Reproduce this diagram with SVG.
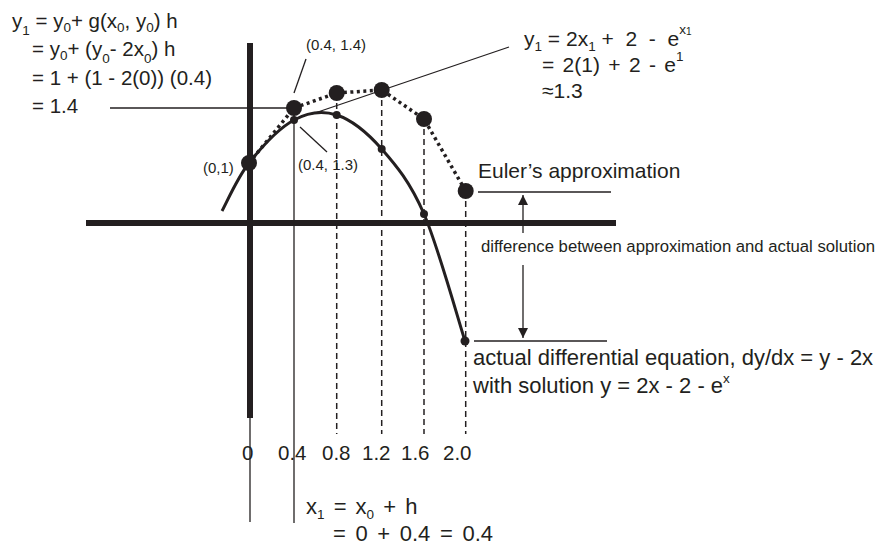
<svg xmlns="http://www.w3.org/2000/svg" width="880" height="548" viewBox="0 0 880 548">
<defs>
<style>
text{font-family:"Liberation Sans",Arial,sans-serif;fill:#231f20}
.f20{font-size:20.5px}
.f21{font-size:21px}
.f22{font-size:22px}
.sm{font-size:15px}
.sub{font-size:13.5px}
.thick{stroke:#231f20;stroke-width:6;fill:none}
.thin{stroke:#231f20;stroke-width:1.3;fill:none}
.dash{stroke:#231f20;stroke-width:1.5;stroke-dasharray:6 4;fill:none}
.dots{stroke:#231f20;stroke-width:3.5;stroke-dasharray:3 3.5;fill:none}
.curve{stroke:#231f20;stroke-width:3;fill:none}
.big{fill:#231f20}
</style>
<marker id="arr" viewBox="0 0 10 10" refX="10" refY="5" markerWidth="10" markerHeight="11" markerUnits="userSpaceOnUse" orient="auto"><path d="M0,0 L10,5 L0,10 z" fill="#231f20"/></marker>
</defs>
<rect width="880" height="548" fill="#fff"/>

<g id="axes">
<line class="thick" x1="86" y1="223" x2="616" y2="223"/>
<line class="thick" x1="250" y1="43" x2="250" y2="418"/>
<line class="thin" x1="250" y1="418" x2="250" y2="522" stroke-width="1.5"/>
</g>

<g id="connectors">
<line class="thin" x1="294" y1="108" x2="294" y2="523" stroke-width="1.5"/>
<line class="dash" x1="336.7" y1="93" x2="336.7" y2="434"/>
<line class="dash" x1="381.7" y1="90" x2="381.7" y2="434"/>
<line class="dash" x1="424" y1="119" x2="424" y2="434"/>
<line class="dash" x1="465.7" y1="191" x2="465.7" y2="434"/>
<line class="thin" x1="110" y1="108" x2="294" y2="108"/>
<line class="thin" x1="312" y1="114" x2="509" y2="47" stroke-width="1.5"/>
<line class="thin" x1="306" y1="59" x2="294" y2="93" stroke-width="1.5"/>
<line class="thin" x1="300" y1="127" x2="327" y2="152" stroke-width="1.5"/>
<line class="thin" x1="478" y1="192" x2="611" y2="192"/>
<line class="thin" x1="474" y1="341" x2="607" y2="341"/>
<line class="thin" x1="523" y1="233" x2="523" y2="195" marker-end="url(#arr)"/>
<line class="thin" x1="523" y1="265" x2="523" y2="338" marker-end="url(#arr)"/>
<path class="dots" d="M249,163 L294,108 L336.7,93 L381.7,90 L424,119 L465.7,191"/>
<path class="curve" d="M222,211 C226.5,203 237,178.2 249,163 C261,147.8 279.4,128 294,120 C308.6,112 322.1,110.2 336.7,115 C351.3,119.8 367.2,132.5 381.7,149 C396.2,165.5 410.1,182 424,214 C437.9,246 458.2,319.8 465,341"/>
</g>

<g id="euler-points" class="big">
<circle cx="249" cy="163" r="8"/>
<circle cx="294" cy="108" r="8"/>
<circle cx="336.7" cy="93" r="8"/>
<circle cx="381.7" cy="90" r="8"/>
<circle cx="424" cy="119" r="8"/>
<circle cx="465.7" cy="191" r="8"/>
</g>
<g id="actual-points" class="big">
<circle cx="294" cy="120" r="4"/>
<circle cx="336.7" cy="115" r="4"/>
<circle cx="381.7" cy="149" r="4"/>
<circle cx="424" cy="214" r="4"/>
<circle cx="465" cy="341" r="4.5"/>
</g>

<g id="formula-y1">
<text class="f20" x="12" y="28">y<tspan class="sub" dy="7">1</tspan><tspan dy="-7"> = y</tspan><tspan class="sub" dy="4">0</tspan><tspan dy="-4">+ g(x</tspan><tspan class="sub" dy="4">0</tspan><tspan dy="-4">, y</tspan><tspan class="sub" dy="4">0</tspan><tspan dy="-4">) h</tspan></text>
<text class="f20" x="32" y="56">= y<tspan class="sub" dy="4">0</tspan><tspan dy="-4">+ (y</tspan><tspan class="sub" dy="7">0</tspan><tspan dy="-7">- 2x</tspan><tspan class="sub" dy="7">0</tspan><tspan dy="-7">) h</tspan></text>
<text class="f20" x="32" y="85">= 1 + (1 - 2(0)) (0.4)</text>
<text class="f20" x="32" y="113">= 1.4</text>
</g>

<g id="formula-exact">
<text class="f21" x="524" y="46">y<tspan class="sub" dy="5">1</tspan><tspan dy="-5"> = 2x</tspan><tspan class="sub" dy="5">1</tspan><tspan dy="-5"> +&#160; 2 &#160;- &#160;e</tspan><tspan class="sub" dy="-12">x</tspan><tspan font-size="10" dy="1">1</tspan></text>
<text class="f21" x="542" y="72" word-spacing="2.5">= 2(1) + 2 - e<tspan class="sub" dy="-11">1</tspan></text>
<text class="f21" x="542" y="98">≈1.3</text>
</g>

<g id="point-labels">
<text class="sm" x="306" y="50">(0.4, 1.4)</text>
<text class="sm" x="203" y="173">(0,1)</text>
<text class="sm" x="298" y="170">(0.4, 1.3)</text>
</g>

<g id="euler-label">
<text class="f21" x="478" y="178">Euler’s approximation</text>
</g>
<g id="difference-label">
<text x="481" y="252" font-size="16.7">difference between approximation and actual solution</text>
</g>
<g id="actual-label">
<text class="f22" x="473" y="365">actual differential equation, dy/dx = y - 2x</text>
<text class="f22" x="473" y="393">with solution y = 2x - 2 - e<tspan class="sub" dy="-10">x</tspan></text>
</g>

<g id="x-ticks">
<text class="f20" x="242" y="460">0</text>
<text class="f20" x="278" y="460">0.4</text>
<text class="f20" x="322" y="460">0.8</text>
<text class="f20" x="362" y="460">1.2</text>
<text class="f20" x="401" y="460">1.6</text>
<text class="f20" x="443" y="460">2.0</text>
</g>

<g id="formula-x1">
<text font-size="22" x="306" y="514" word-spacing="3">x<tspan class="sub" dy="5">1</tspan><tspan dy="-5"> = x</tspan><tspan class="sub" dy="5">0</tspan><tspan dy="-5"> + h</tspan></text>
<text font-size="22" x="333" y="541" word-spacing="3.5">= 0 + 0.4 = 0.4</text>
</g>
</svg>
